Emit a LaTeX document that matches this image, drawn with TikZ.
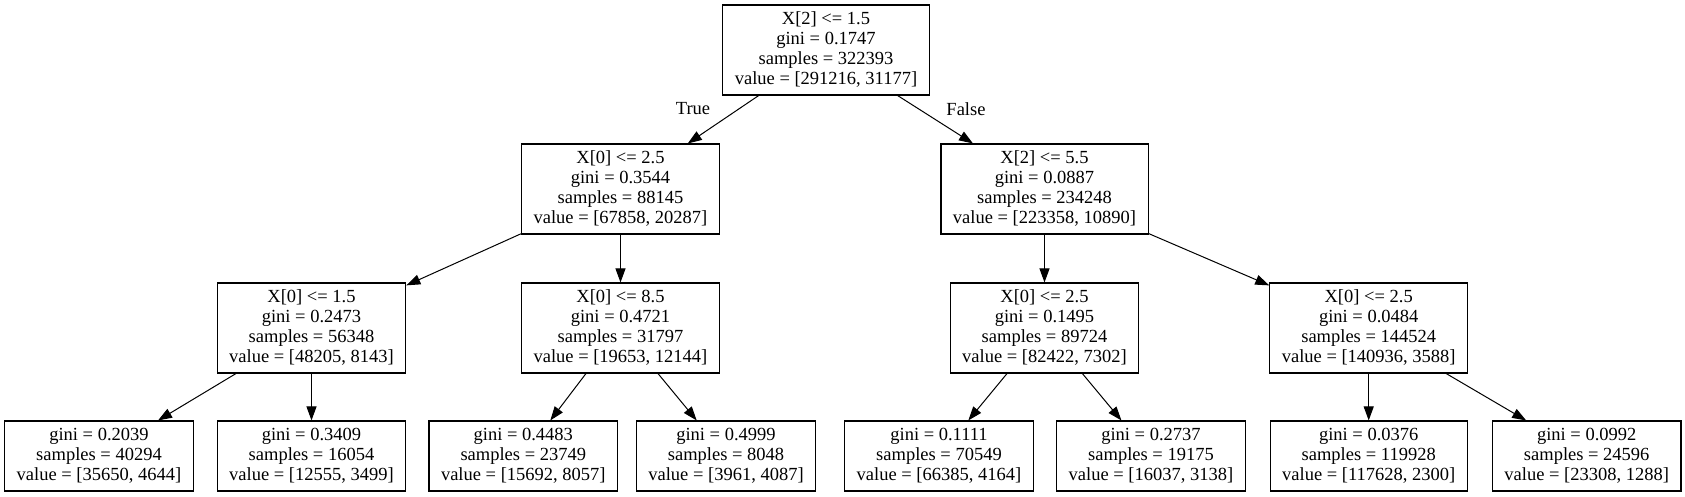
\documentclass[tikz,border=0pt]{standalone}
\usepackage{fontspec}
\setmainfont{Liberation Serif}
\usetikzlibrary{arrows.meta}
\tikzset{
  treebox/.style={draw, line width=1.1pt, rectangle, align=center,
    font=\fontsize{18.5}{20}\selectfont, inner xsep=12pt, inner ysep=0pt},
  splitnode/.style={treebox, minimum height=90pt},
  leafnode/.style={treebox, minimum height=70pt},
  treeedge/.style={line width=1pt, -{Triangle[length=14pt,width=10pt]}},
  edgelabel/.style={font=\fontsize{18.5}{20}\selectfont, inner sep=0pt}
}
\begin{document}
\begin{tikzpicture}[x=1pt,y=-1pt]
\useasboundingbox (0,0) rectangle (1685,497);
% level 0
\node[splitnode] (n0) at (826,50) {X[2] <= 1.5\\gini = 0.1747\\samples = 322393\\value = [291216, 31177]};
% level 1
\node[splitnode] (n1) at (620.5,189) {X[0] <= 2.5\\gini = 0.3544\\samples = 88145\\value = [67858, 20287]};
\node[splitnode] (n8) at (1044.5,189) {X[2] <= 5.5\\gini = 0.0887\\samples = 234248\\value = [223358, 10890]};
% level 2
\node[splitnode] (n2) at (311.5,328) {X[0] <= 1.5\\gini = 0.2473\\samples = 56348\\value = [48205, 8143]};
\node[splitnode] (n5) at (620.5,328) {X[0] <= 8.5\\gini = 0.4721\\samples = 31797\\value = [19653, 12144]};
\node[splitnode] (n9) at (1044.5,328) {X[0] <= 2.5\\gini = 0.1495\\samples = 89724\\value = [82422, 7302]};
\node[splitnode] (n12) at (1368.7,328) {X[0] <= 2.5\\gini = 0.0484\\samples = 144524\\value = [140936, 3588]};
% leaves
\node[leafnode] (n3) at (99,456) {gini = 0.2039\\samples = 40294\\value = [35650, 4644]};
\node[leafnode] (n4) at (311.5,456) {gini = 0.3409\\samples = 16054\\value = [12555, 3499]};
\node[leafnode] (n6) at (523.3,456) {gini = 0.4483\\samples = 23749\\value = [15692, 8057]};
\node[leafnode] (n7) at (726,456) {gini = 0.4999\\samples = 8048\\value = [3961, 4087]};
\node[leafnode] (n10) at (939,456) {gini = 0.1111\\samples = 70549\\value = [66385, 4164]};
\node[leafnode] (n11) at (1151,456) {gini = 0.2737\\samples = 19175\\value = [16037, 3138]};
\node[leafnode] (n13) at (1368.7,456) {gini = 0.0376\\samples = 119928\\value = [117628, 2300]};
\node[leafnode] (n14) at (1586.7,456) {gini = 0.0992\\samples = 24596\\value = [23308, 1288]};
% edges
\draw[treeedge] (n0) -- (n1);
\draw[treeedge] (n0) -- (n8);
\draw[treeedge] (n1) -- (n2);
\draw[treeedge] (n1) -- (n5);
\draw[treeedge] (n8) -- (n9);
\draw[treeedge] (n8) -- (n12);
\draw[treeedge] (n2) -- (n3);
\draw[treeedge] (n2) -- (n4);
\draw[treeedge] (n5) -- (n6);
\draw[treeedge] (n5) -- (n7);
\draw[treeedge] (n9) -- (n10);
\draw[treeedge] (n9) -- (n11);
\draw[treeedge] (n12) -- (n13);
\draw[treeedge] (n12) -- (n14);
% edge labels
\node[edgelabel] (ltrue) at (693,109) {True};
\node[edgelabel] (lfalse) at (966,109) {False};
\end{tikzpicture}
\end{document}
